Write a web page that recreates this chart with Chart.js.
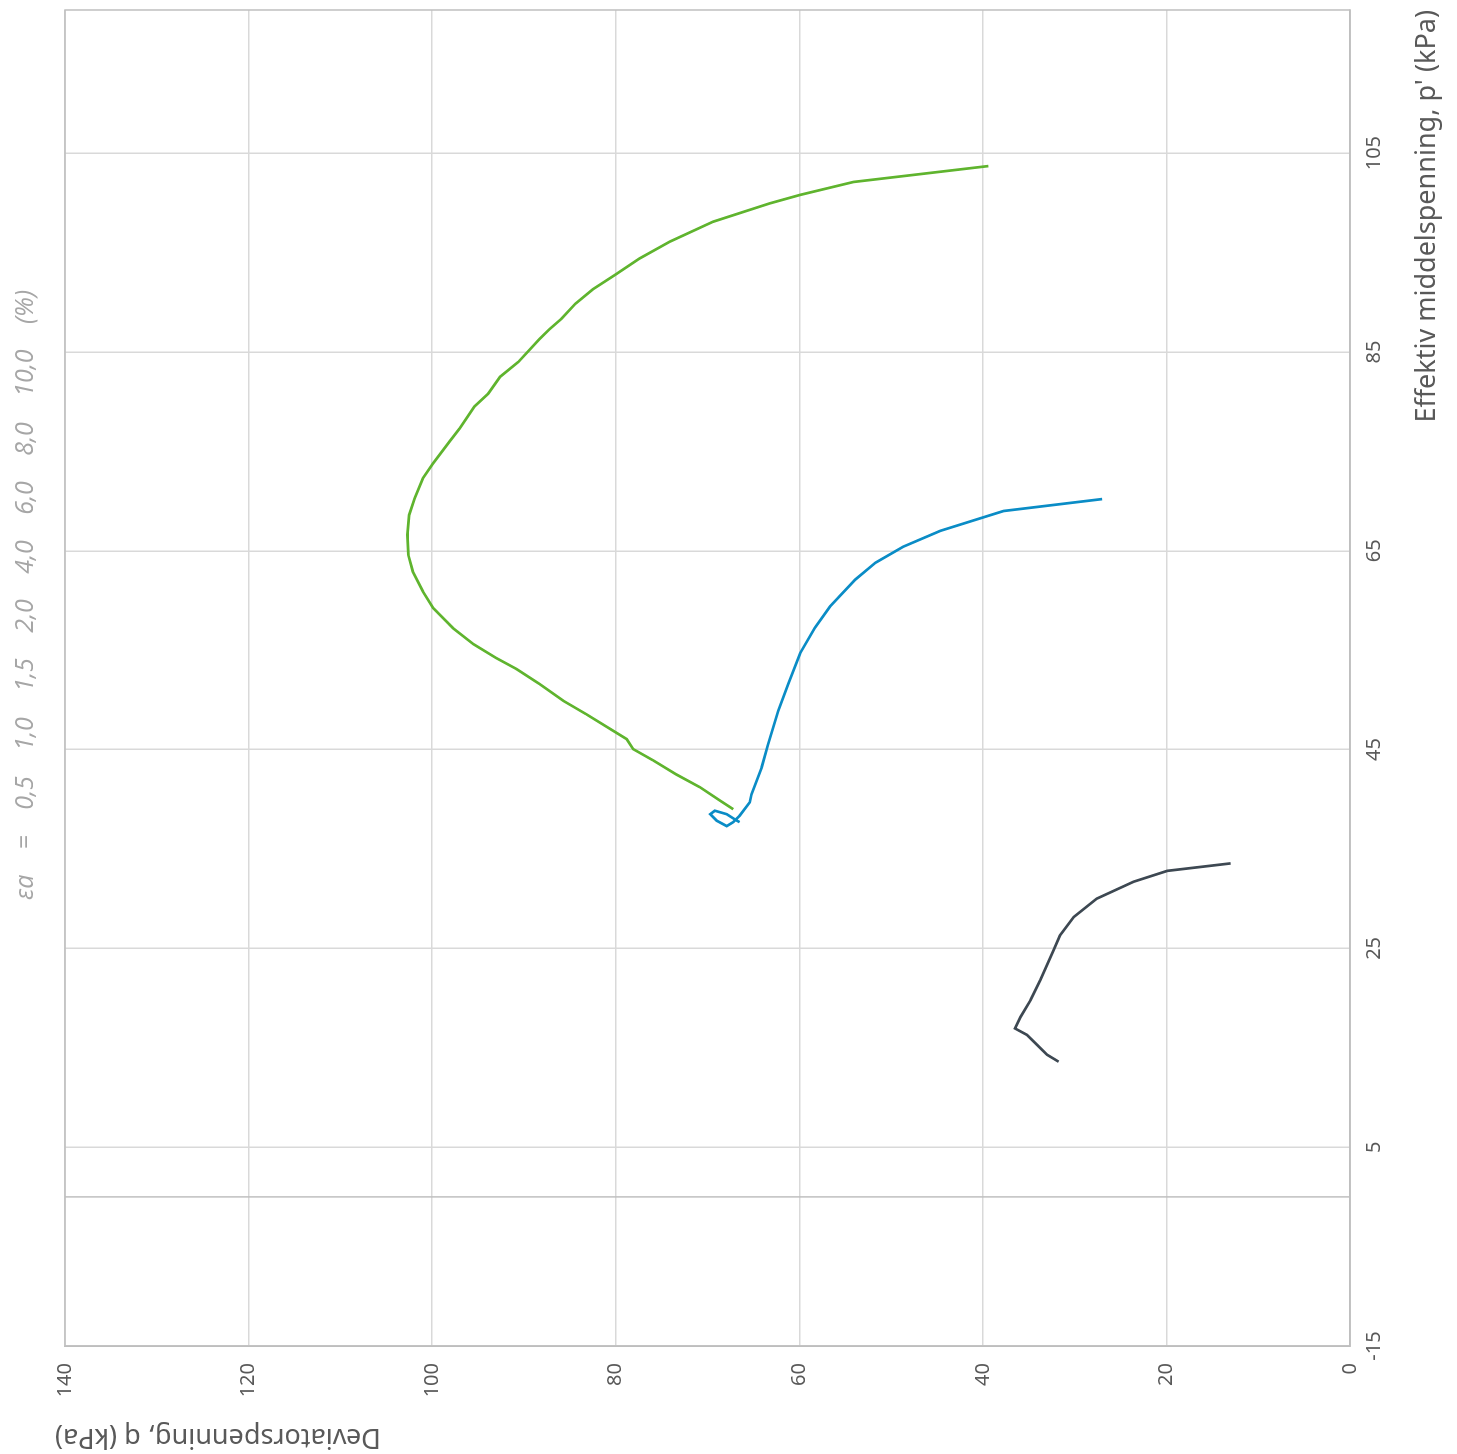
<!DOCTYPE html>
<html lang="no">
<head>
  <meta charset="UTF-8" />
  <title>Spenningssti p'-q</title>
  <script src="https://cdn.jsdelivr.net/npm/chart.js"></script>
  <style>
    html, body {
      margin: 0;
      padding: 0;
      background: #ffffff;
      overflow: hidden;
    }
    /* the chart is drawn the normal way (p' along x, q up) and the whole thing turned a quarter left */
    #wrap {
      position: absolute;
      left: 0;
      top: 0;
      width: 1454px;
      height: 1457px;
      transform-origin: 0 0;
      transform: translate(0, 1454px) rotate(-90deg);
    }
  </style>
</head>
<body>

<div id="wrap">
  <canvas id="stressPath" width="1454" height="1457"></canvas>
</div>

<script>
  // axis ticks
  const pTicks = [-15, 5, 25, 45, 65, 85, 105];
  const qTicks = [0, 20, 40, 60, 80, 100, 120, 140];
  const strainLabels = ['\u03b5a', '=', '0,5', '1,0', '1,5', '2,0', '4,0', '6,0', '8,0', '10,0', '(%)'];

  // green test: effective mean stress p' and deviator stress q (kPa)
  const pGreen = [103.7, 102.1, 100.8, 99.95, 98.1, 96.1, 94.4, 92.8, 91.3, 89.85, 88.35, 87.3, 86.3,
    84.0, 82.5, 80.8, 79.5, 77.3, 76.0, 73.8, 72.3, 70.3, 68.6, 66.6, 64.6, 62.9, 60.9, 59.25,
    57.2, 55.6, 54.2, 53.1, 51.6, 49.9, 48.55, 46.9, 46.05, 45.05, 43.9, 42.5, 41.2, 39.85, 39.0];
  const qGreen = [39.4, 54.1, 59.9, 63.2, 69.4, 74.1, 77.4, 80.0, 82.5, 84.4, 85.9, 87.2, 88.3,
    90.6, 92.6, 93.9, 95.4, 97.0, 98.1, 99.9, 101.0, 101.9, 102.5, 102.7, 102.6, 102.1, 101.0, 99.9,
    97.7, 95.5, 93.0, 90.8, 88.3, 85.7, 83.2, 80.3, 78.8, 78.1, 75.9, 73.4, 70.8, 68.6, 67.2];

  // blue test
  const pBlue = [70.2, 69.0, 67.0, 65.4, 63.8, 62.1, 59.4, 57.25, 54.7, 51.6, 48.9, 45.5, 43.2,
    40.5, 39.7, 38.35, 37.7, 37.3, 37.85, 38.5, 38.85, 38.5, 37.85, 37.7];
  const qBlue = [27.0, 37.75, 44.65, 48.7, 51.7, 53.9, 56.65, 58.3, 59.9, 61.2, 62.3, 63.4, 64.1,
    65.2, 65.4, 66.5, 67.2, 67.9, 69.0, 69.7, 69.2, 67.9, 66.8, 66.5];

  // dark grey test
  const pGrey = [33.55, 32.8, 31.7, 30.0, 28.15, 26.3, 24.8, 21.8, 19.8, 18.1, 16.95, 16.3, 15.3, 14.3, 13.6];
  const qGrey = [13.0, 19.9, 23.6, 27.6, 30.1, 31.6, 32.3, 33.75, 34.8, 35.9, 36.5, 35.2, 34.1, 33.0, 31.75];

  function toPoints(ps, qs) {
    return ps.map((p, i) => ({ x: p, y: qs[i] }));
  }

  const labelColor = '#595959';
  const gridColor = '#d9d9d9';
  const frameColor = '#bfbfbf';

  // frame round the plot area, the p' = 0 line and the free text
  const framePlugin = {
    id: 'frame',
    beforeDatasetsDraw(chart) {
      const { ctx, chartArea: a } = chart;
      const x0 = chart.scales.x.getPixelForValue(0);
      ctx.save();
      ctx.strokeStyle = frameColor;
      ctx.lineWidth = 1.5;
      ctx.strokeRect(a.left, a.top, a.right - a.left, a.bottom - a.top);
      ctx.beginPath();
      ctx.moveTo(x0, a.top);
      ctx.lineTo(x0, a.bottom);
      ctx.stroke();
      ctx.restore();
    },
    afterDraw(chart) {
      const ctx = chart.ctx;
      ctx.save();

      // q axis title, placed where the original had it
      ctx.translate(17, 55);
      ctx.rotate(-Math.PI / 2);
      ctx.font = '27px "Noto Sans"';
      ctx.fillStyle = labelColor;
      ctx.textAlign = 'right';
      ctx.textBaseline = 'middle';
      ctx.fillText('Deviatorspenning, q (kPa)', 0, 0);
      ctx.restore();

      // strain levels line on top
      ctx.save();
      ctx.font = 'italic 25px "Open Sans"';
      ctx.fillStyle = '#a6a6a6';
      ctx.textBaseline = 'middle';
      const start = 554, end = 1164;
      const widths = strainLabels.map(t => ctx.measureText(t).width);
      const used = widths.reduce((s, w) => s + w, 0);
      const gap = (end - start - used) / (strainLabels.length - 1);
      let x = start;
      strainLabels.forEach((t, i) => {
        ctx.fillText(t, x, 26);
        x += widths[i] + gap;
      });
      ctx.restore();
    }
  };

  const ctx = document.getElementById('stressPath').getContext('2d');

  new Chart(ctx, {
    type: 'scatter',
    data: {
      datasets: [
        { label: 'Forsøk 1', data: toPoints(pGreen, qGreen), borderColor: '#5fb42e' },
        { label: 'Forsøk 2', data: toPoints(pBlue, qBlue), borderColor: '#0a8cc6' },
        { label: 'Forsøk 3', data: toPoints(pGrey, qGrey), borderColor: '#3d4852' }
      ]
    },
    options: {
      responsive: false,
      animation: false,
      showLine: true,
      layout: { padding: { top: 65, right: 10, left: 0, bottom: 0 } },
      elements: {
        point: { radius: 0, hoverRadius: 0 },
        line: { borderWidth: 2.7, tension: 0, fill: false }
      },
      plugins: {
        legend: { display: false },
        tooltip: { enabled: false }
      },
      scales: {
        x: {
          type: 'linear',
          position: 'bottom',
          min: -15,
          max: 119.4,
          afterBuildTicks: scale => { scale.ticks = pTicks.map(v => ({ value: v })); },
          afterFit: scale => { scale.height = 107; },
          grid: { color: gridColor, lineWidth: 1.5, drawTicks: false },
          border: { display: true, color: frameColor, width: 1.5 },
          ticks: {
            color: labelColor,
            font: { family: 'Noto Sans', size: 20 },
            padding: 12,
            maxRotation: 0,
            autoSkip: false
          },
          title: {
            display: true,
            text: "Effektiv middelspenning, p' (kPa)",
            align: 'end',
            color: labelColor,
            font: { family: 'Noto Sans', size: 27 },
            padding: { top: 0, bottom: 13 }
          }
        },
        y: {
          type: 'linear',
          position: 'left',
          min: 0,
          max: 140,
          afterBuildTicks: scale => { scale.ticks = qTicks.map(v => ({ value: v })); },
          afterFit: scale => { scale.width = 108; },
          grid: { color: gridColor, lineWidth: 1.5, drawTicks: false },
          border: { display: true, color: frameColor, width: 1.5 },
          ticks: {
            color: labelColor,
            font: { family: 'Noto Sans', size: 20 },
            padding: 17,
            autoSkip: false
          },
          title: { display: false }
        }
      }
    },
    plugins: [framePlugin]
  });
</script>

</body>
</html>
